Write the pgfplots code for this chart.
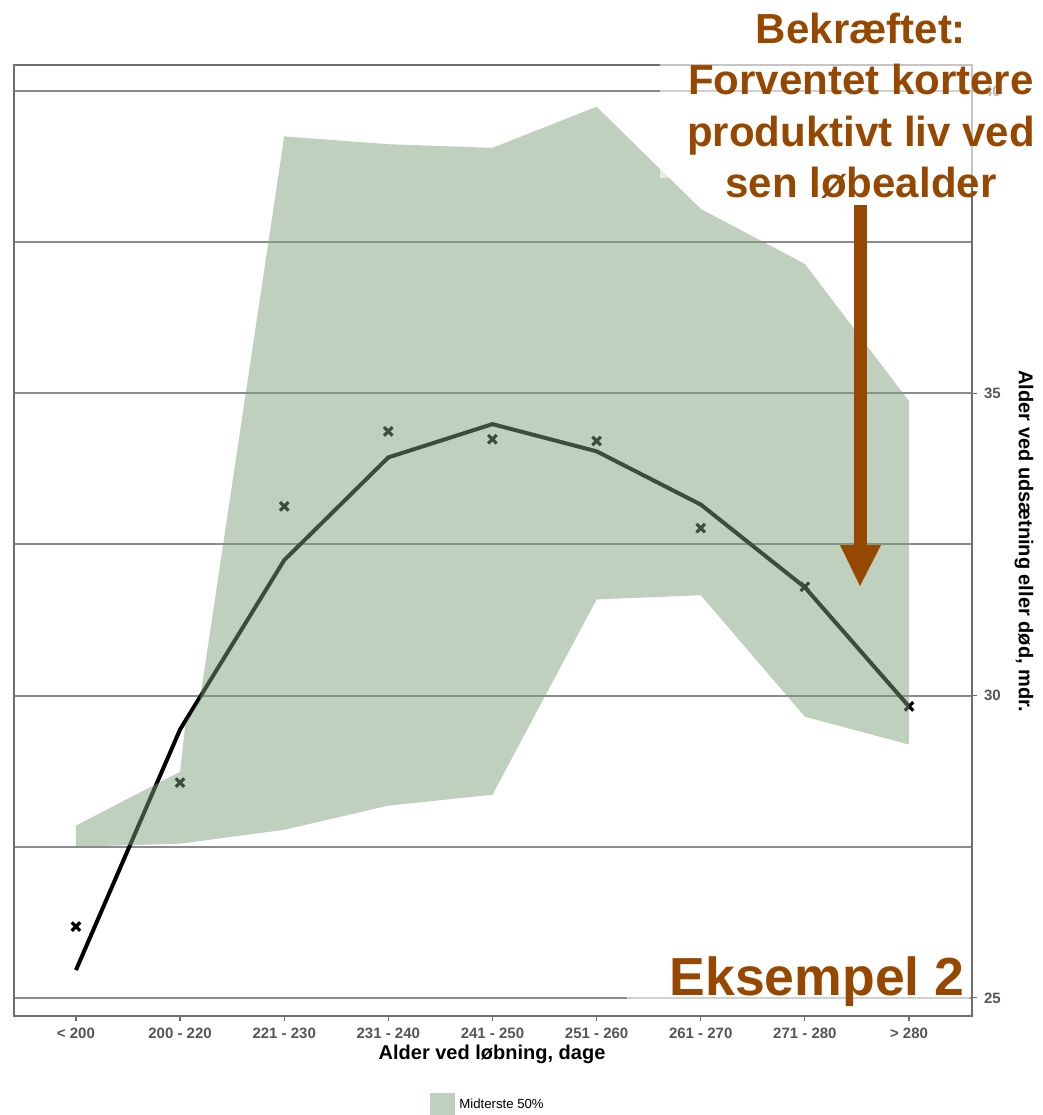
\documentclass[border=0pt]{standalone}
\usepackage{pgfplots}
\pgfplotsset{compat=1.18}
\usepackage{fontspec}
\setmainfont{Liberation Sans}
\definecolor{band}{RGB}{124,161,122}
\definecolor{brn}{RGB}{150,72,0}
\definecolor{gridc}{RGB}{140,140,140}
\definecolor{framec}{RGB}{110,110,110}
\definecolor{tickc}{RGB}{85,85,85}
\begin{document}
\begin{tikzpicture}
\useasboundingbox (0,0) rectangle (521.5pt,-557.5pt);
\clip (0,0) rectangle (521.5pt,-557.5pt);
\begin{axis}[
  at={(7pt,-508pt)}, anchor=south west,
  scale only axis, width=479pt, height=475.5pt,
  xmin=-0.595, xmax=8.605, ymin=24.70, ymax=40.43,
  clip marker paths=true,
  axis line style={framec, line width=0.75pt},
  xtick={0,...,8},
  xticklabels={{< 200},{200 - 220},{221 - 230},{231 - 240},{241 - 250},{251 - 260},{261 - 270},{271 - 280},{> 280}},
  ytick={25,30,35,40},
  minor ytick={27.5,32.5,37.5},
  ymajorgrids, yminorgrids,
  major grid style={gridc, line width=1pt},
  minor grid style={gridc, line width=1pt},
  xtick pos=bottom, ytick pos=right, yticklabel pos=right,
  tick align=outside,
  major tick length=2.5pt, minor tick length=0pt,
  tick style={framec, line width=0.6pt},
  /pgf/number format/assume math mode=true,
  xticklabel style={font=\bfseries\fontsize{7.5}{9}\selectfont, text=tickc},
  yticklabel style={font=\bfseries\fontsize{7.5}{9}\selectfont, text=tickc},
  xlabel={Alder ved løbning, dage},
  xlabel style={font=\bfseries\fontsize{10}{12}\selectfont, at={(axis description cs:0.499,-0.0400)}, anchor=center},
  ylabel={Alder ved udsætning eller død, mdr.},
  ylabel style={font=\bfseries\fontsize{10}{12}\selectfont, at={(axis description cs:1.0543,0.4995)}, anchor=center, rotate=180},
  legend style={at={(axis description cs:0.4342,-0.0936)}, anchor=west, draw=none, fill=none,
    font=\fontsize{6.6}{8}\selectfont, inner sep=0pt},
  legend cell align=left,
  legend image code/.code={\fill[band, fill opacity=0.49] (0pt,-6.25pt) rectangle (12.5pt,6.25pt);},
]
% mean line
\addplot[black, line width=2pt, forget plot] coordinates {
(0,25.46) (1,29.44) (2,32.24) (3,33.94) (4,34.49) (5,34.04) (6,33.16) (7,31.79) (8,29.82)};
% observed points
\addplot[only marks, mark=x, mark size=3pt, mark options={black, line width=1.6pt}, forget plot] coordinates {
(0,26.18) (1,28.56) (2,33.13) (3,34.37) (4,34.24) (5,34.21) (6,32.77) (7,31.80) (8,29.82)};
% middle 50% band
\addplot[draw=none, fill=band, fill opacity=0.49] coordinates {
(0,27.85) (1,28.74) (1.05,29.52) (1.19,29.93) (2,39.25) (3,39.12) (4,39.06) (5,39.74) (6,38.05) (7,37.14) (8,34.87)
(8,29.19) (7,29.65) (6,31.66) (5,31.59) (4,28.36) (3,28.18) (2,27.78) (1,27.55) (0,27.5)} -- cycle;
\addlegendentry{Midterste 50\%}
\end{axis}
\begin{scope}[x=0.5pt,y=-0.5pt]
\fill[white, opacity=0.6] (660,40) rectangle (1043,178);
\fill[white, opacity=0.6] (627,935) rectangle (970,1005);
\fill[brn] (853.5,205) rectangle (866.5,548);
\fill[brn] (840,545) -- (881,545) -- (860,586) -- cycle;
\begin{scope}[every node/.style={inner sep=0pt, text=brn, font=\bfseries\fontsize{21}{25}\selectfont}]
\node[anchor=base] at (861,43) {Bekræftet:};
\node[anchor=base] at (861,94) {Forventet kortere};
\node[anchor=base] at (861,146) {produktivt liv ved};
\node[anchor=base] at (861,197) {sen løbealder};
\end{scope}
\node[anchor=base east, inner sep=0pt, text=brn, font=\bfseries\fontsize{26.8}{30}\selectfont] at (965,995) {Eksempel 2};
\end{scope}
\end{tikzpicture}
\end{document}
